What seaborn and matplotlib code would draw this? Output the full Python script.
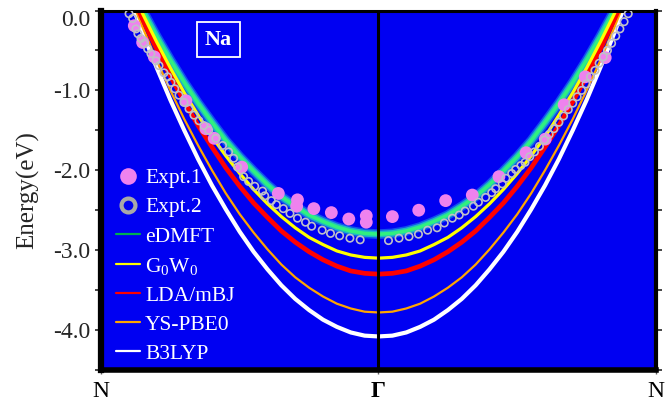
import numpy as np
import pandas as pd
import matplotlib
matplotlib.use("Agg")
import matplotlib.pyplot as plt
from matplotlib.lines import Line2D
import seaborn as sns

# ---------------- data ----------------
k = [0.00, 0.05, 0.10, 0.15, 0.20, 0.25, 0.30, 0.35, 0.40, 0.45, 0.50,
     0.55, 0.60, 0.65, 0.70, 0.75, 0.80, 0.85, 0.90, 0.95, 1.00,
     1.05, 1.10, 1.15, 1.20, 1.25, 1.30, 1.35, 1.40, 1.45, 1.50,
     1.55, 1.60, 1.65, 1.70, 1.75, 1.80, 1.85, 1.90, 1.95, 2.00]
edmft = [1.08, 0.70, 0.34, 0.00, -0.32, -0.62, -0.90, -1.16, -1.40, -1.63, -1.83,
         -2.01, -2.18, -2.33, -2.45, -2.56, -2.64, -2.71, -2.76, -2.79, -2.80,
         -2.79, -2.76, -2.71, -2.64, -2.56, -2.45, -2.33, -2.18, -2.01, -1.83,
         -1.63, -1.40, -1.16, -0.90, -0.62, -0.32, 0.00, 0.34, 0.70, 1.08]
g0w0 = [1.13, 0.72, 0.33, -0.04, -0.39, -0.72, -1.03, -1.31, -1.58, -1.82, -2.04,
        -2.24, -2.42, -2.58, -2.72, -2.84, -2.93, -3.01, -3.06, -3.09, -3.10,
        -3.09, -3.06, -3.01, -2.93, -2.84, -2.72, -2.58, -2.42, -2.24, -2.04,
        -1.82, -1.58, -1.31, -1.03, -0.72, -0.39, -0.04, 0.33, 0.72, 1.13]
lda_mbj = [1.11, 0.68, 0.27, -0.11, -0.48, -0.82, -1.14, -1.44, -1.71, -1.97, -2.20,
           -2.41, -2.59, -2.76, -2.90, -3.02, -3.12, -3.20, -3.26, -3.29, -3.30,
           -3.29, -3.26, -3.20, -3.12, -3.02, -2.90, -2.76, -2.59, -2.41, -2.20,
           -1.97, -1.71, -1.44, -1.14, -0.82, -0.48, -0.11, 0.27, 0.68, 1.11]
ys_pbe0 = [1.16, 0.68, 0.22, -0.21, -0.62, -1.00, -1.36, -1.69, -2.00, -2.29, -2.55,
           -2.78, -2.99, -3.18, -3.34, -3.47, -3.58, -3.67, -3.73, -3.77, -3.78,
           -3.77, -3.73, -3.67, -3.58, -3.47, -3.34, -3.18, -2.99, -2.78, -2.55,
           -2.29, -2.00, -1.69, -1.36, -1.00, -0.62, -0.21, 0.22, 0.68, 1.16]
b3lyp = [1.18, 0.67, 0.18, -0.28, -0.71, -1.12, -1.50, -1.86, -2.19, -2.49, -2.77,
         -3.02, -3.24, -3.44, -3.61, -3.75, -3.87, -3.96, -4.03, -4.07, -4.08,
         -4.07, -4.03, -3.96, -3.87, -3.75, -3.61, -3.44, -3.24, -3.02, -2.77,
         -2.49, -2.19, -1.86, -1.50, -1.12, -0.71, -0.28, 0.18, 0.67, 1.18]

expt1_k = [0.120, 0.150, 0.192, 0.306, 0.378, 0.408, 0.507, 0.639, 0.708, 0.705,
           0.767, 0.830, 0.893, 0.956, 0.956,
           1.050, 1.145, 1.242, 1.338, 1.434, 1.532, 1.601, 1.669, 1.745, 1.817]
expt1_e = [-0.19, -0.40, -0.58, -1.13, -1.48, -1.60, -1.96, -2.29, -2.37, -2.45,
           -2.48, -2.53, -2.61, -2.57, -2.65,
           -2.58, -2.50, -2.38, -2.31, -2.08, -1.78, -1.61, -1.18, -0.83, -0.59]

expt2_k = [0.101, 0.114, 0.126, 0.133, 0.144, 0.155, 0.168, 0.180, 0.198, 0.209,
           0.227, 0.240, 0.252, 0.266, 0.281, 0.299, 0.317, 0.335, 0.353, 0.371,
           0.388, 0.414, 0.438, 0.460, 0.478, 0.492, 0.514, 0.532, 0.554, 0.582,
           0.590, 0.614, 0.632, 0.657, 0.681, 0.708, 0.737, 0.759, 0.797, 0.827,
           0.860, 0.897, 0.934,
           1.036, 1.074, 1.110, 1.144, 1.177, 1.211, 1.237, 1.266, 1.291, 1.312,
           1.342, 1.360, 1.386, 1.408, 1.422, 1.446, 1.459, 1.480, 1.494, 1.513,
           1.528, 1.545, 1.562, 1.580, 1.598, 1.615, 1.632, 1.650, 1.667, 1.684,
           1.700, 1.716, 1.732, 1.748, 1.764, 1.780, 1.795, 1.810, 1.825, 1.840,
           1.855, 1.870, 1.885, 1.900, 1.915]
expt2_e = [-0.04, -0.10, -0.23, -0.29, -0.35, -0.41, -0.48, -0.54, -0.63, -0.69,
           -0.78, -0.83, -0.90, -0.98, -1.06, -1.15, -1.23, -1.31, -1.38, -1.44,
           -1.50, -1.60, -1.69, -1.77, -1.85, -1.96, -2.08, -2.14, -2.20, -2.26,
           -2.32, -2.38, -2.43, -2.48, -2.54, -2.60, -2.65, -2.70, -2.75, -2.79,
           -2.82, -2.85, -2.87,
           -2.88, -2.85, -2.83, -2.80, -2.75, -2.72, -2.66, -2.60, -2.56, -2.51,
           -2.45, -2.40, -2.34, -2.28, -2.23, -2.17, -2.10, -2.04, -1.99, -1.94,
           -1.90, -1.83, -1.77, -1.70, -1.62, -1.55, -1.48, -1.40, -1.32, -1.24,
           -1.16, -1.08, -1.00, -0.92, -0.83, -0.75, -0.66, -0.58, -0.50, -0.41,
           -0.32, -0.23, -0.14, -0.04, 0.05]

xtick_pos = [0.0, 1.0, 2.0]
xtick_labels = ["N", "Γ", "N"]
ytick_pos = [0.0, -1.0, -2.0, -3.0, -4.0]
ytick_labels = ["0.0", "-1.0", "-2.0", "-3.0", "-4.0"]

# ---------------- style ----------------
sns.set_style("ticks")
plt.rcParams["font.family"] = ["Liberation Serif", "DejaVu Serif"]
plt.rcParams["mathtext.fontset"] = "custom"
plt.rcParams["mathtext.rm"] = "Liberation Serif"
plt.rcParams["mathtext.it"] = "Liberation Serif:italic"
plt.rcParams["axes.unicode_minus"] = False

BLUE = "#0000f2"
C_YEL = "#ffff00"
C_RED = "#ff0000"
C_ORG = "#ffa500"
C_WHITE = "#ffffff"
C_VIOLET = "#ee82ee"
C_GREY = "#c0c0c8"

fig = plt.figure(figsize=(6.7, 4.03), dpi=100)
ax = fig.add_axes([101 / 670, 1 - 370 / 403, (656 - 101) / 670, (370 - 10.5) / 403])
ax.set_facecolor(BLUE)

bands = pd.DataFrame({"k": k, "eDMFT": edmft, "G0W0": g0w0, "LDA/mBJ": lda_mbj,
                      "YS-PBE0": ys_pbe0, "B3LYP": b3lyp})

# eDMFT spectral band with soft halo
for lw, col, a in [(7.0, "#2090e8", 0.55), (4.8, "#20c8c0", 0.85), (2.6, "#30f080", 1.0)]:
    sns.lineplot(data=bands, x="k", y="eDMFT", ax=ax, color=col, lw=lw, alpha=a,
                 sort=False, estimator=None, legend=False)

for name, col, lw in [("B3LYP", C_WHITE, 3.0), ("YS-PBE0", C_ORG, 1.6),
                      ("LDA/mBJ", C_RED, 3.4), ("G0W0", C_YEL, 2.3)]:
    sns.lineplot(data=bands, x="k", y=name, ax=ax, color=col, lw=lw,
                 sort=False, estimator=None, legend=False)

ex1 = pd.DataFrame({"k": expt1_k, "E": expt1_e})
ex2 = pd.DataFrame({"k": expt2_k, "E": expt2_e})
sns.scatterplot(data=ex1, x="k", y="E", ax=ax, color=C_VIOLET, s=85,
                edgecolor="none", legend=False, zorder=4)
sns.scatterplot(data=ex2, x="k", y="E", ax=ax, s=28, facecolor="none",
                edgecolor=C_GREY, linewidth=1.2, legend=False, zorder=5)

ax.axvline(1.0, color="black", lw=2.2, zorder=6)

ax.set_xlim(0, 2)
ax.set_ylim(-4.5, 0.0)
ax.set_xlabel("")
ax.set_ylabel("Energy(eV)", fontsize=18, labelpad=10)

ax.set_xticks(xtick_pos)
ax.set_xticklabels(xtick_labels, fontsize=17)
ax.get_xticklabels()[1].set_fontweight("bold")
ax.set_yticks(ytick_pos)
ax.set_yticklabels(ytick_labels, fontsize=17)
ax.get_yticklabels()[0].set_va("top")
ax.set_yticks([-0.5, -1.5, -2.5, -3.5, -4.5], minor=True)
ax.tick_params(axis="y", which="both", direction="out", length=4, width=1.2,
               right=True, pad=4)
ax.tick_params(axis="x", direction="out", length=3, width=1, colors="#606060", pad=5)
for t in ax.get_xticklabels():
    t.set_color("black")

for side, lw in [("left", 4.5), ("bottom", 4.0), ("top", 2.2), ("right", 3.0)]:
    ax.spines[side].set_linewidth(lw)
    ax.spines[side].set_color("black")
    ax.spines[side].set_visible(True)

ax.text(0.212, 0.919, "Na", transform=ax.transAxes, ha="center", va="center",
        fontsize=16, fontweight="bold", color="white",
        bbox=dict(boxstyle="square,pad=0.35", fc="none", ec="white", lw=1.3))

handles = [
    Line2D([], [], ls="none", marker="o", ms=12, mfc=C_VIOLET, mec="none"),
    Line2D([], [], ls="none", marker="o", ms=10, mfc="none", mec="#a8a8a8", mew=3),
    Line2D([], [], color="#00b050", lw=1.6),
    Line2D([], [], color=C_YEL, lw=1.6),
    Line2D([], [], color=C_RED, lw=1.6),
    Line2D([], [], color=C_ORG, lw=1.6),
    Line2D([], [], color=C_WHITE, lw=1.6),
]
labels = ["Expt.1", "Expt.2", "eDMFT", r"G$_0$W$_0$", "LDA/mBJ", "YS-PBE0", "B3LYP"]
ax.legend(handles, labels, loc="lower left", bbox_to_anchor=(0.0, -0.025),
          frameon=False, fontsize=15.5, labelcolor="white", handlelength=1.1,
          handletextpad=0.25, labelspacing=0.42, borderaxespad=0.3)

fig.savefig("out.png", dpi=100)
